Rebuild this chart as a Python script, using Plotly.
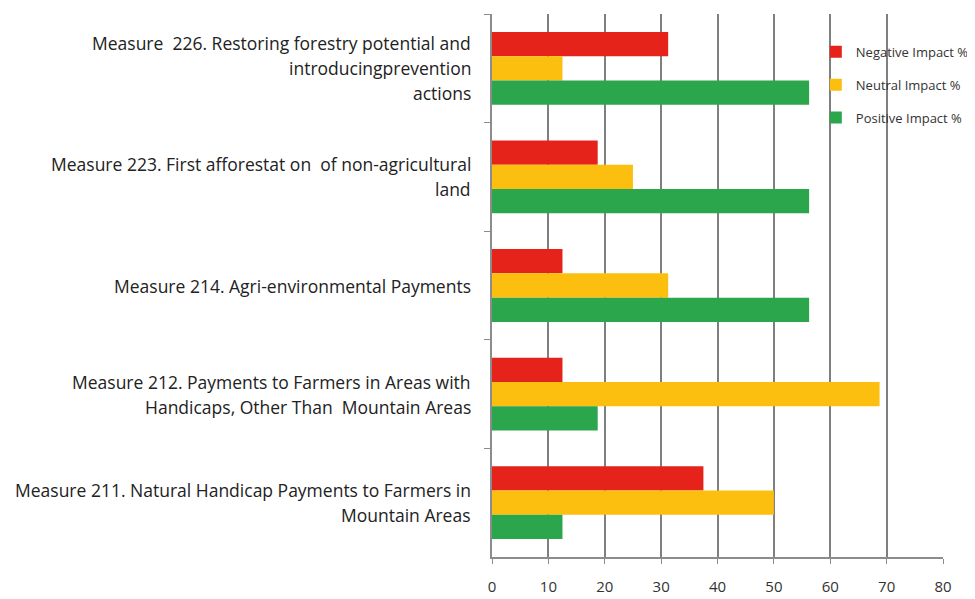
import plotly.graph_objects as go

categories = ["226", "223", "214", "212", "211"]
label_lines = [
    ["Measure  226. Restoring forestry potential and", "introducingprevention", "actions"],
    ["Measure 223. First afforestat on  of non-agricultural", "land"],
    ["Measure 214. Agri-environmental Payments"],
    ["Measure 212. Payments to Farmers in Areas with", "Handicaps, Other Than  Mountain Areas"],
    ["Measure 211. Natural Handicap Payments to Farmers in", "Mountain Areas"],
]
negative = [31.25, 18.75, 12.5, 12.5, 37.5]
neutral = [12.5, 25, 31.25, 68.75, 50]
positive = [56.25, 56.25, 56.25, 18.75, 12.5]
x_ticks = [0, 10, 20, 30, 40, 50, 60, 70, 80]

series = [
    ("Negative Impact %", negative, "#E5231B"),
    ("Neutral Impact %", neutral, "#FCBF10"),
    ("Positive Impact %", positive, "#2CA64D"),
]

fig = go.Figure()
for name, vals, color in series:
    fig.add_trace(go.Bar(
        y=categories, x=vals, name=name, orientation="h",
        legendgroup=name,
        marker=dict(color=color, line=dict(width=0)),
    ))

annotations = []
for idx, lines in enumerate(label_lines):
    n = len(lines)
    for i, line in enumerate(lines):
        annotations.append(dict(
            x=0, xref="paper", xanchor="right", xshift=-19,
            y=idx, yref="y", yanchor="middle",
            yshift=((n - 1) / 2 - i) * 25,
            text=line, showarrow=False,
            font=dict(family="Open Sans", size=17.5, color="#222222"),
        ))

fig.update_layout(
    width=975, height=599,
    margin=dict(l=484, r=40, t=6, b=50),
    paper_bgcolor="white", plot_bgcolor="white",
    barmode="group", bargap=0.33, bargroupgap=0,
    font=dict(family="Open Sans", color="#222222"),
    legend=dict(
        x=0.718, y=0.958, xanchor="left", yanchor="top",
        bgcolor="rgba(0,0,0,0)", font=dict(size=13, color="#333333"),
        itemwidth=30, traceorder="grouped", tracegroupgap=13,
    ),
    annotations=annotations,
    showlegend=True,
)
fig.update_xaxes(
    range=[0, 80], tickvals=x_ticks, ticktext=[str(v) for v in x_ticks],
    showgrid=True, gridcolor="#7f7f7f", gridwidth=1.5,
    showline=True, linecolor="#8c8c8c", linewidth=1.5,
    ticks="outside", ticklen=5, tickcolor="#8c8c8c",
    tickfont=dict(size=15, color="#333333"), ticklabelstandoff=10,
    zeroline=False,
)
fig.update_yaxes(
    type="category", categoryorder="array", categoryarray=categories,
    autorange="reversed", showticklabels=False,
    showline=True, linecolor="#8c8c8c", linewidth=1.5,
    ticks="outside", tickson="boundaries", ticklen=6, tickcolor="#8c8c8c",
    showgrid=False,
)

fig.write_html("out.html")
